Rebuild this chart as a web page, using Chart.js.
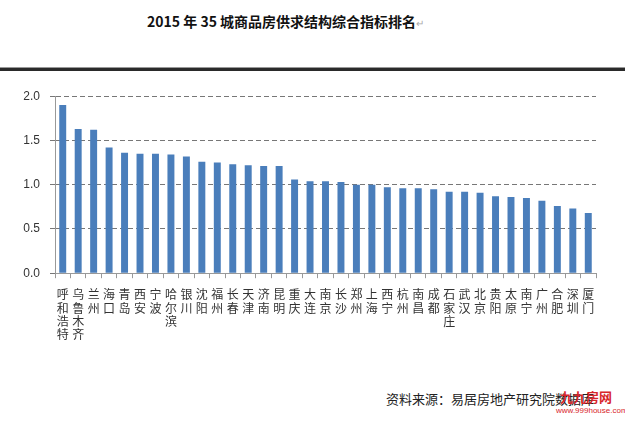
<!DOCTYPE html>
<html>
<head>
<meta charset="utf-8">
<script src="https://cdn.jsdelivr.net/npm/chart.js@4"></script>
<style>
    body { margin: 0; width: 625px; height: 426px; background: #fff; position: relative; overflow: hidden; font-family: "Noto Sans CJK SC", sans-serif; }
    #title { position: absolute; top: 11px; left: 147px; font-size: 14px; font-weight: bold; color: #111; white-space: nowrap; }
    #title .mark { color: #aaa; font-size: 10px; font-weight: normal; }
    #rule { position: absolute; top: 67px; left: 0; width: 625px; height: 3px; background: #2a2a2a; border-top: 1px solid #999; }
    #wrap { position: absolute; top: 79px; left: 0; width: 625px; height: 272px; }
    #source { position: absolute; top: 389px; left: 386px; font-size: 13px; color: #222; }
    #mark { position: absolute; top: 387px; left: 560px; font-size: 13px; font-weight: bold; color: #d8262b; }
    #url { position: absolute; top: 406px; left: 556px; font-size: 8px; color: #d8262b; font-family: "Liberation Sans", sans-serif; }
</style>
</head>
<body>
<div id="title">2015 年 35 城商品房供求结构综合指标排名<span class="mark">↵</span></div>
<div id="rule"></div>
<div id="wrap"><canvas id="chart"></canvas></div>
<div id="source">资料来源：易居房地产研究院数据库</div>
<div id="mark">九九房网</div>
<div id="url">www.999house.com</div>
<script>
// 城市
const cities = ["呼和浩特", "乌鲁木齐", "兰州", "海口", "青岛", "西安", "宁波", "哈尔滨", "银川", "沈阳",
    "福州", "长春", "天津", "济南", "昆明", "重庆", "大连", "南京", "长沙", "郑州",
    "上海", "西宁", "杭州", "南昌", "成都", "石家庄", "武汉", "北京", "贵阳", "太原",
    "南宁", "广州", "合肥", "深圳", "厦门"];

// 综合指标
const scores = [1.90, 1.63, 1.62, 1.42, 1.36, 1.35, 1.35, 1.34, 1.32, 1.26,
    1.25, 1.23, 1.22, 1.21, 1.21, 1.06, 1.04, 1.04, 1.03, 1.00,
    1.00, 0.97, 0.96, 0.96, 0.95, 0.92, 0.92, 0.91, 0.87, 0.86,
    0.85, 0.82, 0.76, 0.73, 0.68];

const yTicks = [0, 0.5, 1.0, 1.5, 2.0];

// 竖排标签：每个字一行
const labels = cities.map(c => c.split(""));

new Chart(document.getElementById("chart").getContext("2d"), {
    type: "bar",
    data: {
        labels: labels,
        datasets: [{
            data: scores,
            backgroundColor: "#4a7ebb",
            categoryPercentage: 0.9,
            barPercentage: 0.5
        }]
    },
    options: {
        responsive: true,
        maintainAspectRatio: false,
        animation: false,
        layout: { padding: { top: 10, right: 29, bottom: 0, left: 0 } },
        plugins: {
            legend: { display: false },
            tooltip: { enabled: false }
        },
        scales: {
            x: {
                grid: { drawOnChartArea: false, tickLength: 5, color: "#999" },
                border: { color: "#999" },
                ticks: {
                    maxRotation: 0,
                    autoSkip: false,
                    padding: 10,
                    color: "#333",
                    font: { family: "Noto Sans CJK SC", size: 12, lineHeight: 1.1 }
                }
            },
            y: {
                min: 0,
                max: 2,
                afterFit: (scale) => { scale.width = 55; },
                afterBuildTicks: (scale) => { scale.ticks = yTicks.map(v => ({ value: v })); },
                grid: { color: "#777", tickLength: 5, tickBorderDash: [0, 0] },
                border: { color: "#999", dash: [5, 3] },
                ticks: {
                    padding: 10,
                    color: "#333",
                    font: { family: "Liberation Sans", size: 12 },
                    callback: (v) => Number(v).toFixed(1)
                }
            }
        }
    }
});
</script>
</body>
</html>
